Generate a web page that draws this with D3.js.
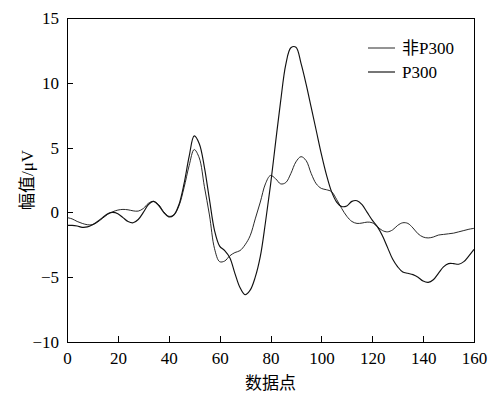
<!DOCTYPE html>
<html>
<head>
<meta charset="utf-8">
<script src="https://cdn.jsdelivr.net/npm/d3@7"></script>
<style>
  body { margin: 0; background: #fff; }
  svg text { font-family: "Times New Roman", "Liberation Serif", Tinos, "Noto Sans CJK SC", serif; fill: #000; }
</style>
</head>
<body>
<script>
// sample index (数据点)
let xs = d3.range(0, 161, 2);

// 非P300 average
let nonP300 = [
  -0.4, -0.5, -0.7, -0.85, -0.95, -0.95, -0.75, -0.45, -0.15, 0.05,
  0.18, 0.23, 0.2, 0.12, 0.1, 0.3, 0.7, 0.85, 0.6, 0.05,
  -0.3, -0.2, 0.5, 1.9, 3.6, 4.85, 4.2, 2.0, -0.2, -2.8,
  -3.8, -3.75, -3.35, -3.1, -2.95, -2.5, -1.8, -0.5, 0.8, 2.2,
  2.85, 2.6, 2.2, 2.3, 3.0, 3.9, 4.3, 4.0, 3.0, 2.2,
  1.85, 1.75, 1.6, 1.0, 0.3, -0.3, -0.7, -0.85, -0.82, -0.75,
  -0.8, -1.1, -1.4, -1.5, -1.35, -1.0, -0.8, -0.85, -1.2, -1.65,
  -1.9, -1.97, -1.9, -1.75, -1.7, -1.65, -1.6, -1.5, -1.4, -1.3,
  -1.23
];

// P300 average
let p300 = [
  -1.0, -1.0, -1.05, -1.15, -1.12, -0.95, -0.7, -0.4, -0.1, 0.0,
  -0.1, -0.4, -0.7, -0.8, -0.55, 0.0, 0.6, 0.85, 0.55, 0.0,
  -0.35, -0.2, 0.6, 2.2, 4.3, 5.9, 5.3, 3.5, 1.0, -1.4,
  -2.6, -2.95, -3.5, -4.7, -5.8, -6.35, -6.0, -5.0, -3.4, -0.8,
  2.1, 5.4, 8.6, 11.4, 12.7, 12.75, 11.5, 9.9, 8.1, 6.3,
  4.5, 2.9, 1.6, 0.8, 0.45, 0.5, 0.85, 0.9, 0.6, 0.0,
  -0.6, -1.1, -1.8, -2.7, -3.6, -4.2, -4.6, -4.7, -4.8, -5.0,
  -5.3, -5.4, -5.2, -4.7, -4.2, -3.95, -3.95, -4.0, -3.8, -3.35,
  -2.85
];

let seriesNames = ['非P300', 'P300'];
let xTicks = d3.range(0, 161, 20);
let yTicks = [-10, -5, 0, 5, 10, 15];

let width = 490, height = 393;
const margin = { top: 18, right: 16, bottom: 51, left: 67 };
let plotWidth = width - margin.left - margin.right;
let plotHeight = height - margin.top - margin.bottom;

let svg = d3.select('body').append('svg')
  .attr('width', width)
  .attr('height', height);

let plot = svg.append('g').attr('transform', `translate(${margin.left},${margin.top})`);

let x = d3.scaleLinear().domain([0, 160]).range([0, plotWidth]);
let y = d3.scaleLinear().domain([-10, 15]).range([plotHeight, 0]);

// frame
plot.append('rect')
  .attr('width', plotWidth).attr('height', plotHeight)
  .attr('fill', 'none').attr('stroke', '#000').attr('stroke-width', 1)
  .attr('shape-rendering', 'crispEdges');

let xAxis = plot.append('g')
  .attr('transform', `translate(0,${plotHeight})`)
  .call(d3.axisBottom(x).tickValues(xTicks).tickSizeInner(-6).tickSizeOuter(0).tickPadding(10));
let yAxis = plot.append('g')
  .call(d3.axisLeft(y).tickValues(yTicks).tickSizeInner(-6).tickSizeOuter(0).tickPadding(8));

[xAxis, yAxis].forEach(a => {
  a.attr('font-family', null);
  a.select('.domain').attr('stroke', '#000');
  a.selectAll('line').attr('stroke', '#000').attr('shape-rendering', 'crispEdges');
  a.selectAll('text').attr('font-size', 17);
});

let line = d3.line()
  .x((d, i) => x(xs[i]))
  .y(d => y(d))
  .curve(d3.curveCatmullRom.alpha(0.5));

let widths = [0.9, 1.15];
[nonP300, p300].forEach((s, i) => {
  plot.append('path')
    .datum(s)
    .attr('d', line)
    .attr('fill', 'none')
    .attr('stroke', '#111')
    .attr('stroke-width', widths[i]);
});

// legend
let legend = svg.append('g').attr('transform', 'translate(368,48)');
seriesNames.forEach((name, i) => {
  let g = legend.append('g').attr('transform', `translate(0,${i * 24})`);
  g.append('line').attr('x1', 0).attr('x2', 27).attr('y1', 0).attr('y2', 0)
    .attr('stroke', '#111').attr('stroke-width', widths[i]);
  g.append('text').attr('x', 34).attr('y', 6).attr('font-size', 17).text(name);
});

// axis titles
svg.append('text')
  .attr('x', margin.left + plotWidth / 2).attr('y', 389)
  .attr('text-anchor', 'middle').attr('font-size', 17)
  .text('数据点');

svg.append('text')
  .attr('transform', `translate(33,${margin.top + plotHeight / 2}) rotate(-90)`)
  .attr('text-anchor', 'middle').attr('font-size', 17)
  .text('幅值/μV');
</script>
</body>
</html>
